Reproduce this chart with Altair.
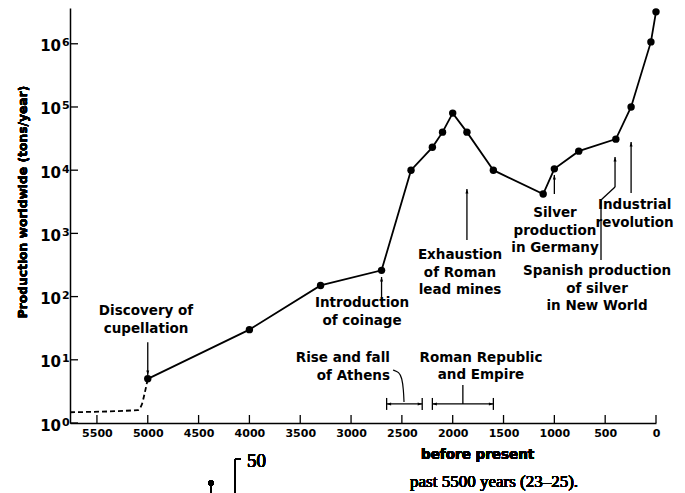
import altair as alt
import pandas as pd

FONT = "DejaVu Sans"
SERIF = "Liberation Serif"

# ---- main series (years before present, tons/year) ----
years = [5000, 4000, 3300, 2700, 2410, 2200, 2100, 2000, 1860, 1600, 1110, 1000, 760, 395, 245, 50, 0]
production = [5, 30, 150, 260, 10000, 23000, 40000, 80000, 40000, 10000, 4200, 10500, 20000, 31000,
              100000, 1070000, 3200000]

# dashed early part (before cupellation)
early_years = [5765, 5100, 5060, 5030, 5000]
early_production = [1.48, 1.6, 1.93, 2.98, 5.0]

# axis ticks
x_ticks = [5500, 5000, 4500, 4000, 3500, 3000, 2500, 2000, 1500, 1000, 500, 0]
decades = [1, 10, 100, 1000, 10000, 100000, 1000000]
exponents = ["0", "1", "2", "3", "4", "5", "6"]

# annotations: text, anchor year, anchor value (first line)
ann_text = ["Discovery of\ncupellation", "Introduction\nof coinage", "Exhaustion\nof Roman\nlead mines",
            "Silver\nproduction\nin Germany", "Industrial\nrevolution",
            "Spanish production\nof silver\nin New World", "Roman Republic\nand Empire"]
ann_year = [5017, 2892, 1928, 994, 210, 580, 1722]
ann_val = [59, 79, 455, 2100, 2800, 254, 10.7]
athens_text = ["Rise and fall\nof Athens"]
athens_year = [2617]
athens_val = [10.7]

# arrow shafts / interval lines (year, value) -> (year2, value2)
seg_year = [5000, 2700, 1860, 1000, 245, 541, 541, 403, 1900, 2650, 2650, 2300, 2200, 2200, 1600]
seg_val = [19, 88, 787, 4200, 4350, 380, 3380, 5400, 4.0, 2.0, 1.61, 1.61, 2.0, 1.61, 1.61]
seg_year2 = [5000, 2700, 1860, 1000, 245, 541, 403, 403, 1900, 2300, 2650, 2300, 1600, 2200, 1600]
seg_val2 = [5.75, 204, 5040, 8400, 27900, 3380, 5400, 16200, 2.0, 2.0, 2.49, 2.49, 2.0, 2.49, 2.49]

# arrow heads
UP = "M0,0L0.5,1.5L-0.5,1.5Z"
DOWN = "M0,0L0.5,-1.5L-0.5,-1.5Z"
LEFT = "M0,0L1.5,0.5L1.5,-0.5Z"
RIGHT = "M0,0L-1.5,0.5L-1.5,-0.5Z"
head_year = [5000, 2700, 1860, 1000, 245, 403, 2650, 2300, 2200, 1600]
head_val = [5.75, 204, 5040, 8400, 27900, 16200, 2.0, 2.0, 2.0, 2.0]
head_shape = [DOWN, UP, UP, UP, UP, UP, LEFT, RIGHT, LEFT, RIGHT]

# curved pointer for "Rise and fall of Athens"
curve_year = [2587, 2528, 2499, 2484, 2479]
curve_val = [6.9, 6.41, 5.15, 3.33, 2.15]

# ---- tables ----
main_df = pd.DataFrame({"year": years, "val": production, "i": range(len(years))})
early_df = pd.DataFrame({"year": early_years, "val": early_production, "i": range(len(early_years))})
ytick_df = pd.DataFrame({"val": decades, "exp": exponents})
xtick_df = pd.DataFrame({"year": x_ticks})
ann_df = pd.DataFrame({"year": ann_year, "val": ann_val, "label": ann_text})
athens_df = pd.DataFrame({"year": athens_year, "val": athens_val, "label": athens_text})
seg_df = pd.DataFrame({"year": seg_year, "val": seg_val, "year2": seg_year2, "val2": seg_val2})
head_df = pd.DataFrame({"year": head_year, "val": head_val, "shape": head_shape})
curve_df = pd.DataFrame({"year": curve_year, "val": curve_val, "i": range(len(curve_year))})

xs = alt.Scale(domain=[5765, 0], nice=False, zero=False)
ys = alt.Scale(type="log", domain=[1, 10 ** 6.566], nice=False)
x_axis = alt.Axis(values=x_ticks, format="d", title=None, grid=False, ticks=False,
                  labelFont=FONT, labelFontSize=11, labelFontWeight="bold", labelColor="black",
                  labelPadding=4, domainColor="black", domainWidth=1.5, labelFlush=False,
                  labelOverlap=False)
y_axis = alt.Axis(labels=False, ticks=False, grid=False, title=None, domainColor="black",
                  domainWidth=1.5)


def X():
    return alt.X("year:Q", scale=xs, axis=x_axis)


def Y():
    return alt.Y("val:Q", scale=ys, axis=y_axis)


early = alt.Chart(early_df).mark_line(color="black", strokeWidth=1.8, strokeDash=[5, 3],
                                      interpolate="monotone").encode(x=X(), y=Y(), order="i:Q")
line = alt.Chart(main_df).mark_line(color="black", strokeWidth=1.8).encode(x=X(), y=Y(), order="i:Q")
pts = alt.Chart(main_df).mark_circle(color="black", size=55, opacity=1).encode(x=X(), y=Y())

ytick_rules = alt.Chart(ytick_df).mark_rule(color="black", strokeWidth=1.3).encode(
    y=Y(), x=alt.value(0), x2=alt.value(8))
xtick_rules = alt.Chart(xtick_df).mark_rule(color="black", strokeWidth=1.3).encode(
    x=X(), y=alt.value(415), y2=alt.value(407))

ylab_base = alt.Chart(ytick_df).mark_text(font=FONT, fontSize=15, fontWeight="bold", align="right",
                                          baseline="alphabetic", dy=7.5, color="black").encode(
    y=Y(), x=alt.value(-9), text=alt.value("10"))
ylab_exp = alt.Chart(ytick_df).mark_text(font=FONT, fontSize=11, fontWeight="bold", align="left",
                                         baseline="alphabetic", dy=2.5, color="black").encode(
    y=Y(), x=alt.value(-8), text="exp:N")

ytitle = alt.Chart(ytick_df).mark_text(font=FONT, fontSize=12.3, fontWeight="bold", angle=270,
                                       align="center", baseline="middle", color="black").encode(
    x=alt.value(-47), y=alt.value(194), text=alt.value("Production worldwide (tons/year)"))

ann = alt.Chart(ann_df).mark_text(font=FONT, fontSize=13.5, fontWeight="bold", align="center",
                                  baseline="middle", lineBreak="\n", lineHeight=17.5,
                                  color="black").encode(x=X(), y=Y(), text="label:N")
athens = alt.Chart(athens_df).mark_text(font=FONT, fontSize=13.5, fontWeight="bold", align="right",
                                        baseline="middle", lineBreak="\n", lineHeight=18.5,
                                        color="black").encode(x=X(), y=Y(), text="label:N")

segs = alt.Chart(seg_df).mark_rule(color="black", strokeWidth=1.3).encode(
    x=X(), y=Y(), x2="year2:Q", y2="val2:Q")
heads = alt.Chart(head_df).mark_point(filled=True, color="black", size=36, opacity=1,
                                      strokeWidth=0).encode(
    x=X(), y=Y(), shape=alt.Shape("shape:N", scale=None, legend=None))
curve = alt.Chart(curve_df).mark_line(color="black", strokeWidth=1.2, interpolate="basis").encode(
    x=X(), y=Y(), order="i:Q")

xtitle = alt.Chart(xtick_df).mark_text(font=FONT, fontSize=13.5, fontWeight="bold", align="left",
                                       baseline="middle", color="black").encode(
    x=alt.value(351), y=alt.value(447), text=alt.value("before present"))
caption = alt.Chart(xtick_df).mark_text(font=SERIF, fontSize=17, align="left", baseline="middle",
                                        color="black").encode(
    x=alt.value(340), y=alt.value(474), text=alt.value("past 5500 years (23\u201325)."))
fifty = alt.Chart(xtick_df).mark_text(font=SERIF, fontSize=19, align="left", baseline="middle",
                                      color="black").encode(
    x=alt.value(177), y=alt.value(453), text=alt.value("50"))
frag_v = alt.Chart(xtick_df).mark_rule(color="black", strokeWidth=1.3).encode(
    x=alt.value(165), y=alt.value(451), y2=alt.value(490))
frag_h = alt.Chart(xtick_df).mark_rule(color="black", strokeWidth=1.3).encode(
    x=alt.value(165), x2=alt.value(171), y=alt.value(451))
frag_stem = alt.Chart(xtick_df).mark_rule(color="black", strokeWidth=1.5).encode(
    x=alt.value(141), y=alt.value(475), y2=alt.value(490))
frag_dot = alt.Chart(xtick_df).mark_circle(color="black", size=30, opacity=1).encode(
    x=alt.value(141), y=alt.value(475))

chart = alt.layer(
    early, line, pts, ytick_rules, xtick_rules, ylab_base, ylab_exp, ytitle, ann, athens, segs,
    heads, curve, xtitle, caption, fifty, frag_v, frag_h, frag_stem, frag_dot
).properties(
    width=586, height=415,
    autosize=alt.AutoSizeParams(type="none"),
    padding={"left": 62, "top": 0, "right": 20, "bottom": 70},
    background="white",
).configure_view(stroke=None)

chart.save("out.html", embed_options={"renderer": "svg", "actions": False})
